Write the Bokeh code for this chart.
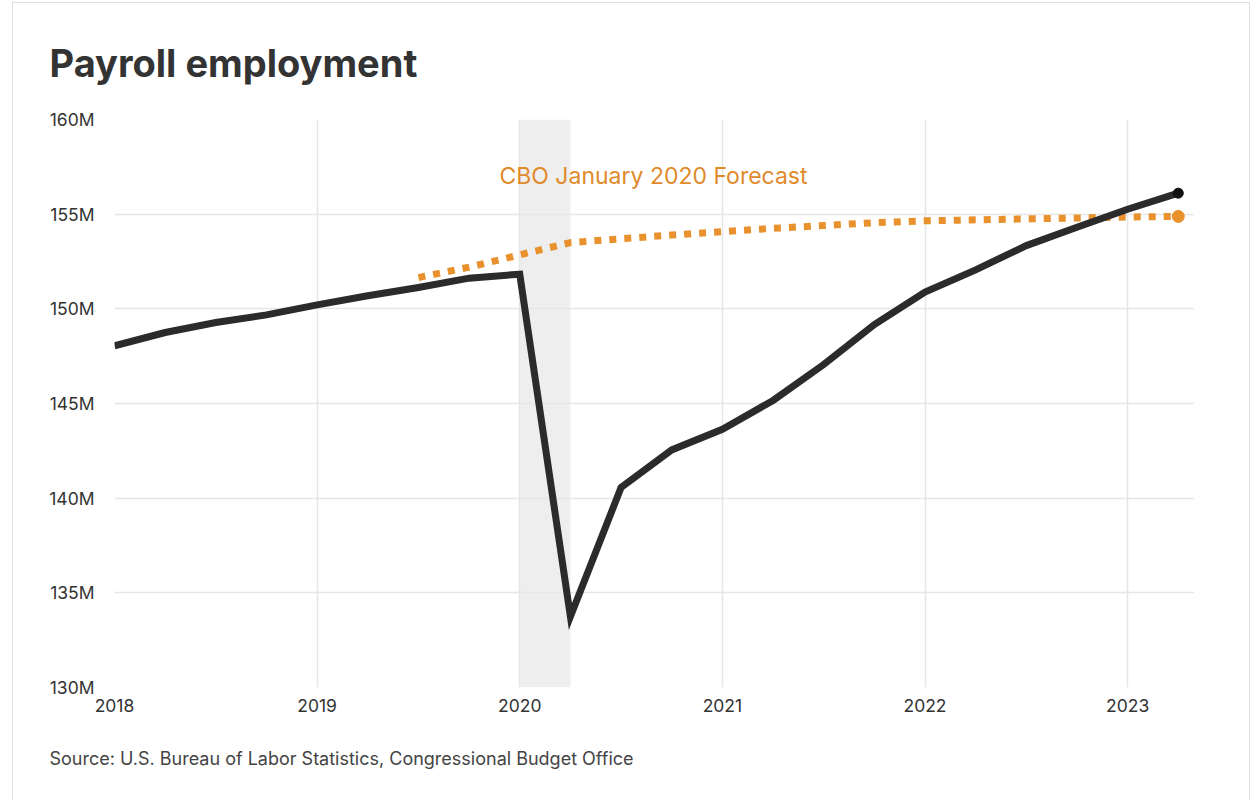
from bokeh.plotting import figure
from bokeh.models import Range1d, FixedTicker, PrintfTickFormatter, BoxAnnotation, Title, ColumnDataSource
from bokeh.core.properties import value
from bokeh.embed import file_html
from bokeh.resources import INLINE

# Quarterly payroll employment (millions)
actual_x = [2018.0, 2018.25, 2018.5, 2018.75, 2019.0, 2019.25, 2019.5, 2019.75,
            2020.0, 2020.25, 2020.5, 2020.75, 2021.0, 2021.25, 2021.5, 2021.75,
            2022.0, 2022.25, 2022.5, 2022.75, 2023.0, 2023.25]
actual_y = [148.05, 148.75, 149.28, 149.68, 150.21, 150.69, 151.13, 151.62,
            151.83, 133.75, 140.56, 142.55, 143.64, 145.16, 147.06, 149.17,
            150.88, 152.06, 153.34, 154.31, 155.26, 156.11]

# CBO January 2020 forecast (millions)
fc_x = [2019.5, 2019.75, 2020.0, 2020.25, 2020.5, 2020.75, 2021.0, 2021.25,
        2021.5, 2021.75, 2022.0, 2022.25, 2022.5, 2022.75, 2023.0, 2023.25]
fc_y = [151.65, 152.2, 152.85, 153.5, 153.7, 153.9, 154.08, 154.25,
        154.4, 154.55, 154.65, 154.7, 154.75, 154.8, 154.85, 154.88]

year_ticks = [2018, 2019, 2020, 2021, 2022, 2023]
value_ticks = [130, 135, 140, 145, 150, 155, 160]
recession = (2020.0, 2020.25)
annotation_text = "CBO January 2020 Forecast"
annotation_pos = (2020.66, 157.0)

FONT = "Inter"
TEXT = "#333333"

p = figure(width=1238, height=798, output_backend="svg", toolbar_location=None,
           x_range=Range1d(2018, 2023.33), y_range=Range1d(130, 160),
           min_border_left=101, min_border_right=57, min_border_top=116, min_border_bottom=114,
           margin=(2, 0, 0, 12),
           styles={"border": "1px solid #dedede", "border-bottom": "none"},
           outline_line_color=None, background_fill_color="white", border_fill_color="white")

p.title.text = "Payroll employment"
p.title.text_font = FONT
p.title.text_font_size = "38px"
p.title.text_font_style = "bold"
p.title.text_color = TEXT
p.title.align = "left"
p.title.offset = -65
p.title.standoff = 68

src = Title(text="Source: U.S. Bureau of Labor Statistics, Congressional Budget Office",
            text_font=FONT, text_font_size="18px", text_font_style="normal",
            text_color="#444444", align="left", offset=-65, standoff=63)
p.add_layout(src, "below")

for ax in (p.xaxis[0], p.yaxis[0]):
    ax.axis_line_color = None
    ax.major_tick_line_color = None
    ax.minor_tick_line_color = None
    ax.major_label_text_font = FONT
    ax.major_label_text_font_size = "17.5px"
    ax.major_label_text_color = TEXT

p.xaxis.ticker = FixedTicker(ticks=year_ticks)
p.xaxis.formatter = PrintfTickFormatter(format="%d")
p.xaxis.major_label_standoff = 5
p.yaxis.ticker = FixedTicker(ticks=value_ticks)
p.yaxis.formatter = PrintfTickFormatter(format="%dM")
p.yaxis.major_label_standoff = 14

p.xgrid.ticker = FixedTicker(ticks=year_ticks)
p.ygrid.ticker = FixedTicker(ticks=value_ticks)
for g in (p.xgrid[0], p.ygrid[0]):
    g.grid_line_color = "#e6e6e6"
    g.grid_line_width = 1.5

band = BoxAnnotation(left=recession[0], right=recession[1], fill_color="#eeeeee",
                     fill_alpha=1.0, line_color=None, level="image")
p.add_layout(band)

a_src = ColumnDataSource(dict(x=actual_x, y=actual_y))
f_src = ColumnDataSource(dict(x=fc_x, y=fc_y))

p.line("x", "y", source=f_src, line_color="#e8912d", line_width=7,
       line_dash="7 8", line_cap="butt")
p.line("x", "y", source=a_src, line_color="#2b2b2b", line_width=7, line_join="miter")

p.scatter([fc_x[-1]], [fc_y[-1]], size=12, color="#e8912d")
p.scatter([actual_x[-1]], [actual_y[-1]], size=10, color="#111111")

p.text(x=[annotation_pos[0]], y=[annotation_pos[1]], text=[annotation_text],
       text_font=value(FONT), text_font_size="23px", text_color="#e08a2b",
       text_align="center", text_baseline="middle")

open("out.html", "w").write(file_html(p, INLINE))
